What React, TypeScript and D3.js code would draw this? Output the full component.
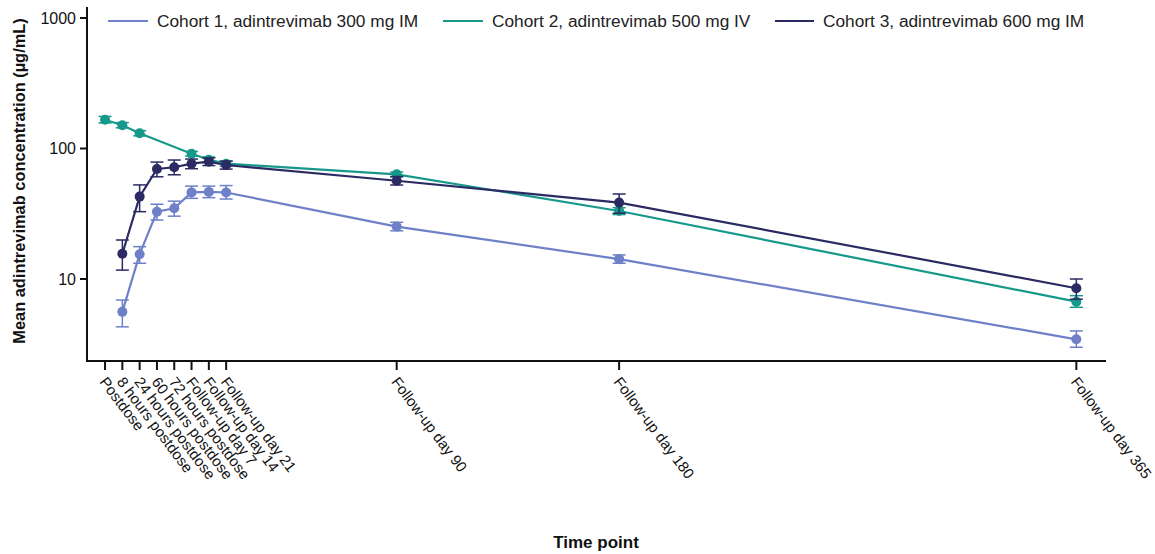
import React from 'react';
import * as d3 from 'd3';

const timeLabels = ['Postdose', '8 hours postdose', '24 hours postdose', '60 hours postdose', '72 hours postdose',
  'Follow-up day 7', 'Follow-up day 14', 'Follow-up day 21', 'Follow-up day 90', 'Follow-up day 180', 'Follow-up day 365'];
// plotted day of each time point (early visits spaced a week apart on the axis)
const timeDays = [-28, -21, -14, -7, 0, 7, 14, 21, 90, 180, 365];

const seriesNames = ['Cohort 1, adintrevimab 300 mg IM', 'Cohort 2, adintrevimab 500 mg IV', 'Cohort 3, adintrevimab 600 mg IM'];
const seriesColors = ['#6d80c8', '#16998a', '#2b2a62'];

// mean, upper, lower (null = not sampled)
const cohort1Mean = [null, 5.6, 15.5, 32.8, 34.8, 46.1, 46.5, 46.0, 25.2, 14.2, 3.45];
const cohort1Upper = [null, 6.9, 17.7, 37.4, 39.5, 51.5, 51.5, 52.0, 27.2, 15.3, 4.0];
const cohort1Lower = [null, 4.3, 13.2, 28.3, 30.3, 41.5, 42.0, 41.0, 23.4, 13.2, 3.0];

const cohort2Mean = [166, 150.7, 130.8, null, null, 91.2, 82, 76.5, 63.4, 33.2, 6.7];
const cohort2Upper = [176, 158, 137, null, null, 95, 86, 80, 66, 35.2, 7.45];
const cohort2Lower = [157, 144, 125, null, null, 87.5, 78, 73, 60.5, 31.2, 6.07];

const cohort3Mean = [null, 15.6, 42.8, 69.7, 71.8, 76.5, 79.3, 74.7, 56.6, 38.5, 8.5];
const cohort3Upper = [null, 19.9, 52.6, 78.7, 81.6, 83.0, 84.8, 80.0, 61.0, 44.8, 10.0];
const cohort3Lower = [null, 11.7, 32.8, 60.7, 62.9, 70.0, 74.0, 69.5, 52.5, 31.9, 7.0];

const yTicks = [10, 100, 1000];

type Pt = { day: number; m: number; u: number; l: number };

export default function App() {
  const W = 1155, H = 554;
  const x = d3.scaleLinear().domain([-35.3, 377]).range([87, 1106]);
  const y = d3.scaleLog().domain([10, 1000]).range([279, 18]);
  const yBottom = 361, yTop = 7;

  const series = [
    { mean: cohort1Mean, up: cohort1Upper, lo: cohort1Lower },
    { mean: cohort2Mean, up: cohort2Upper, lo: cohort2Lower },
    { mean: cohort3Mean, up: cohort3Upper, lo: cohort3Lower },
  ];

  const pts: Pt[][] = series.map(s => s.mean
    .map((m, i) => (m == null ? null : { day: timeDays[i], m, u: s.up[i] as number, l: s.lo[i] as number }))
    .filter(Boolean) as Pt[]);

  const line = d3.line<Pt>().x(d => x(d.day)).y(d => y(d.m));
  const font = 'Liberation Sans, Arial, Helvetica, sans-serif';

  // legend: line start, line end, text start
  const legendLine = [[108, 148], [443, 483], [775, 814]];

  return (
    <svg width={W} height={H} style={{ position: 'absolute', left: 0, top: 0, background: '#fff' }} fontFamily={font}>
      {/* axes */}
      <line x1={87} x2={87} y1={yTop} y2={yBottom} stroke='#111' strokeWidth={2} />
      <line x1={86} x2={1106} y1={yBottom} y2={yBottom} stroke='#111' strokeWidth={2} />
      {yTicks.map(t => (
        <g key={t}>
          <line x1={80} x2={87} y1={y(t)} y2={y(t)} stroke='#111' strokeWidth={2} />
          <text x={76} y={y(t)} dy='0.35em' textAnchor='end' fontSize={16} fill='#111'>{t}</text>
        </g>
      ))}
      {timeDays.map((d, i) => (
        <g key={i}>
          <line x1={x(d)} x2={x(d)} y1={yBottom} y2={yBottom + 9} stroke='#111' strokeWidth={2} />
          <text transform={`translate(${x(d) - 6},${yBottom + 21}) rotate(53)`} fontSize={15} fill='#111'>{timeLabels[i]}</text>
        </g>
      ))}
      <text transform={`translate(25,181) rotate(-90)`} textAnchor='middle' fontSize={16.4} fontWeight='bold' fill='#111'>
        Mean adintrevimab concentration (µg/mL)
      </text>
      <text x={596} y={548} textAnchor='middle' fontSize={17} fontWeight='bold' fill='#111'>Time point</text>

      {/* series */}
      {pts.map((p, si) => (
        <g key={si}>
          <path d={line(p) || ''} fill='none' stroke={seriesColors[si]} strokeWidth={2.2} />
          {p.map((d, j) => (
            <g key={j} stroke={seriesColors[si]} strokeWidth={1.5}>
              <line x1={x(d.day)} x2={x(d.day)} y1={y(d.u)} y2={y(d.l)} />
              <line x1={x(d.day) - 6.5} x2={x(d.day) + 6.5} y1={y(d.u)} y2={y(d.u)} />
              <line x1={x(d.day) - 6.5} x2={x(d.day) + 6.5} y1={y(d.l)} y2={y(d.l)} />
              <circle cx={x(d.day)} cy={y(d.m)} r={5} fill={seriesColors[si]} stroke='none' />
            </g>
          ))}
        </g>
      ))}

      {/* legend */}
      {seriesNames.map((n, i) => (
        <g key={n}>
          <line x1={legendLine[i][0]} x2={legendLine[i][1]} y1={21} y2={21} stroke={seriesColors[i]} strokeWidth={2.2} />
          <text x={legendLine[i][1] + 9} y={21} dy='0.35em' fontSize={17.3} fill='#222'>{n}</text>
        </g>
      ))}
    </svg>
  );
}
